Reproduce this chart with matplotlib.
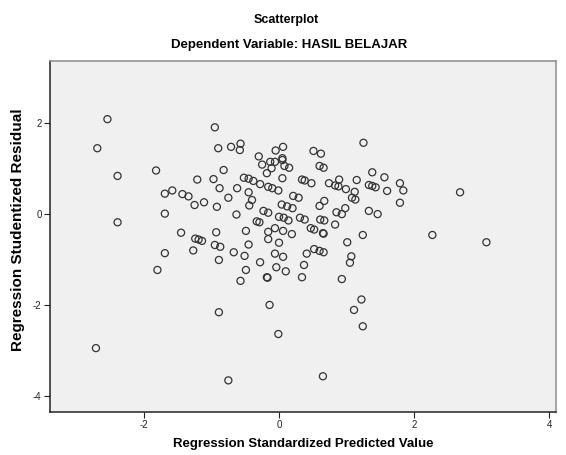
import matplotlib
matplotlib.use("Agg")
import matplotlib.pyplot as plt

plt.rcParams['font.family'] = ['Liberation Sans', 'DejaVu Sans']
plt.rcParams['axes.unicode_minus'] = False

# Regression Standardized Predicted Value (x) vs Studentized Residual (y)
pred = [
    -2.54, -2.69, -2.39, -2.39, -2.71, -1.82, -1.80,
    -1.69, -1.58, -1.43, -1.34, -1.69, -1.25, -1.11, -1.21, -0.97, -0.82,
    -0.95, -0.90, -0.71, -0.57, -0.58, -0.88, -0.92, -0.75, -0.62, -0.63,
    -1.45, -1.24, -1.19, -1.14, -0.93, -0.95, -0.87, -1.27, -1.69, -0.67,
    -0.51, -0.45, -0.49, -0.44, -0.40, -0.45, -0.52, -0.45, -0.38, -0.28,
    -0.16, -0.10, -0.01, -0.30, -0.25, -0.18, -0.13, -0.06, -0.11, -0.05,
    0.06, 0.05, 0.05, 0.08, 0.15, 0.05, -0.23, -0.16, -0.33, -0.29,
    0.04, 0.12, 0.20, 0.00, 0.07, 0.14, 0.21, 0.29, 0.34, 0.38,
    0.31, 0.38, -0.16, -0.06, 0.06, 0.19, -0.16, 0.00, -0.06, 0.06, 0.41,
    -0.89, -0.28, -0.49, -0.57, -0.18, -0.17, -0.04, 0.10, 0.34, 0.37,
    -0.89, -0.14, -0.01, -0.75,
    1.25, 0.51, 0.62, 0.60, 0.66, 0.48, 0.74, 0.83, 0.88, 0.89,
    0.99, 1.15, 1.38, 1.56, 1.33, 1.38, 1.43, 1.60, 1.79, 1.84,
    1.79, 2.68, 1.12, 1.08, 1.13, 0.67, 0.60, 0.98, 0.85, 0.93,
    1.33, 1.46, 0.61, 0.67, 0.83, 0.47, 0.52, 0.65, 0.66, 1.24,
    2.27, 3.07, 1.01, 0.52, 0.60, 0.66, 1.07, 1.05, 0.93, 1.22,
    1.11, 1.24, 0.65,
]
resid = [
    2.09, 1.45, 0.84, -0.18, -2.95, 0.96, -1.23,
    0.45, 0.52, 0.44, 0.39, 0.01, 0.20, 0.26, 0.76, 0.77, 0.97,
    1.91, 1.45, 1.48, 1.55, 1.41, 0.57, 0.16, 0.36, 0.57, -0.01,
    -0.41, -0.54, -0.56, -0.59, -0.40, -0.68, -0.72, -0.80, -0.86, -0.84,
    -0.92, -0.67, -0.37, 0.19, 0.31, 0.48, 0.80, 0.78, 0.73, 0.66,
    0.60, 0.57, 0.52, 1.27, 1.09, 0.90, 1.15, 1.15, 1.01, 1.40,
    1.48, 1.23, 1.19, 1.06, 1.02, 0.79, 0.07, 0.03, -0.16, -0.18,
    0.21, 0.17, 0.13, -0.06, -0.08, -0.14, 0.40, 0.36, 0.76, 0.74,
    -0.08, -0.12, -0.39, -0.31, -0.37, -0.44, -0.55, -0.63, -0.87, -0.94, -0.87,
    -1.01, -1.06, -1.23, -1.47, -1.39, -1.40, -1.17, -1.26, -1.39, -1.12,
    -2.16, -2.00, -2.64, -3.66,
    1.57, 1.39, 1.33, 1.06, 1.02, 0.68, 0.68, 0.63, 0.61, 0.76,
    0.55, 0.75, 0.92, 0.81, 0.64, 0.62, 0.59, 0.51, 0.68, 0.52,
    0.25, 0.48, 0.49, 0.36, 0.32, 0.29, 0.18, 0.13, 0.04, 0.00,
    0.07, 0.00, -0.12, -0.14, -0.23, -0.31, -0.34, -0.42, -0.43, -0.46,
    -0.46, -0.62, -0.62, -0.77, -0.81, -0.84, -0.93, -1.07, -1.43, -1.88,
    -2.11, -2.47, -3.57,
]

fig = plt.figure(figsize=(5.66, 4.55), dpi=100)
ax = fig.add_axes([50 / 566, 1 - 411.7 / 455, 506 / 566, 350.7 / 455])
ax.set_facecolor('#f0f0f0')

ax.scatter(pred, resid, s=26, facecolors='none', edgecolors='#333333', linewidths=0.9)

ax.set_xlim(-3.39, 4.10)
ax.set_ylim(-4.35, 3.37)
ax.set_xticks([-2, 0, 2, 4])
ax.set_yticks([-4, -2, 0, 2])
ax.tick_params(length=4, width=0.8, labelsize=7, colors='#222222', pad=2)

for side in ['left', 'bottom']:
    ax.spines[side].set_color('#222222')
    ax.spines[side].set_linewidth(1.1)
for side in ['top', 'right']:
    ax.spines[side].set_color('#8c8c8c')
    ax.spines[side].set_linewidth(1.1)

ax.set_xlabel('Regression Standardized Predicted Value', fontsize=9.5, fontweight='bold', labelpad=6)
ax.set_ylabel('Regression Studentized Residual', fontsize=11, fontweight='bold')
ax.yaxis.set_label_coords(-0.05, 0.52)

fig.text(0.505, 1 - 20 / 455, 'Scatterplot', ha='center', va='center', fontsize=9, fontweight='bold')
fig.text(0.51, 1 - 45 / 455, 'Dependent Variable: HASIL BELAJAR', ha='center', va='center',
         fontsize=9.5, fontweight='bold')

fig.savefig('out.png', dpi=100)
